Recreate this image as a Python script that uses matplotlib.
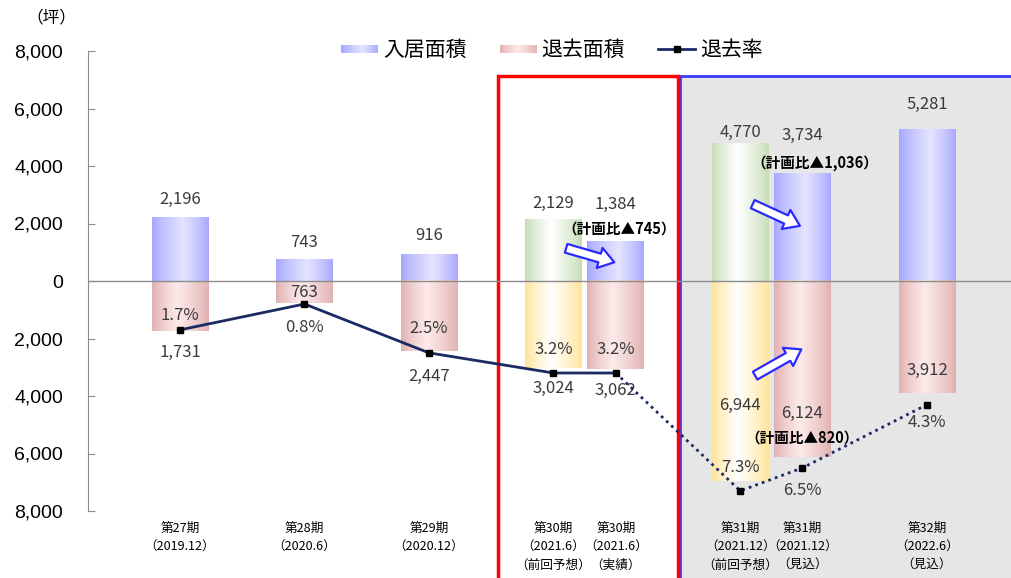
import numpy as np
import matplotlib
matplotlib.use("Agg")
import matplotlib.pyplot as plt
from matplotlib.colors import to_rgb
from matplotlib.patches import Rectangle
from matplotlib.lines import Line2D
from matplotlib.legend_handler import HandlerBase
from matplotlib.ticker import FuncFormatter

plt.rcParams['font.family'] = ['Noto Sans CJK JP', 'DejaVu Sans']

# データ
periods = ["第27期\n（2019.12）", "第28期\n（2020.6）", "第29期\n（2020.12）",
           "第30期\n（2021.6）\n（前回予想）", "第30期\n（2021.6）\n（実績）",
           "第31期\n（2021.12）\n（前回予想）", "第31期\n（2021.12）\n（見込）",
           "第32期\n（2022.6）\n（見込）"]
xpos = [0, 1, 2, 3, 3.5, 4.5, 5, 6]
move_in = [2196, 743, 916, 2129, 1384, 4770, 3734, 5281]      # 入居面積
move_out = [1731, 763, 2447, 3024, 3062, 6944, 6124, 3912]    # 退去面積
rate = [1.7, 0.8, 2.5, 3.2, 3.2, 7.3, 6.5, 4.3]               # 退去率(%)
forecast = [False, False, False, True, False, True, False, False]  # 前回予想

# ラベルの位置調整(ピクセル)
in_off = [18, 17, 19, 16, 37, 11, 38, 25]
out_off = [-22, 10, -25, -21, -21, 75, 44, 23]
rate_off = [14, -23, 24, 23, 23, 23, -23, -18]

def grad(c_edge, c_mid, mid=0.5, n=64):
    e = np.array(to_rgb(c_edge)); m = np.array(to_rgb(c_mid))
    t = np.linspace(0, 1, n)
    w = np.where(t < mid, t / mid, (1 - t) / (1 - mid))
    w = np.clip(w, 0, 1) ** 0.8
    return (e[None, :] * (1 - w[:, None]) + m[None, :] * w[:, None])[None, :, :]

g_blue = grad('#a6a6ff', '#e4e4ff', 0.55)
g_pink = grad('#e0b0b0', '#fdeaea', 0.45)
g_green = grad('#c4dcb4', '#ffffff', 0.45)
g_yellow = grad('#ffe397', '#ffffff', 0.45)

fig = plt.figure(figsize=(10.11, 5.78), dpi=100)
ax = fig.add_axes([88/1011, 1-511/578, (1011-88)/1011, (511-51)/578])
ax.set_xlim(-0.739, 6.675)
ax.set_ylim(-8000, 8000)

# 枠
ax.add_patch(Rectangle((4.016, -10400), 3.0, 17530, fc='#e6e6e6', ec='#3a3aff',
                       lw=2, clip_on=False, zorder=0.5))
ax.add_patch(Rectangle((2.554, -10400), 1.446, 17530, fc='none', ec='#ff0000',
                       lw=2.5, clip_on=False, zorder=0.6))

bw = 0.455
b_in = ax.bar(xpos, move_in, bw, color='none', zorder=2)
b_out = ax.bar(xpos, [-v for v in move_out], bw, color='none', zorder=2)
for i, (r1, r2) in enumerate(zip(b_in, b_out)):
    for r, gi, gf in ((r1, g_blue, g_green), (r2, g_pink, g_yellow)):
        x0, y0 = r.get_x(), r.get_y()
        ax.imshow(gf if forecast[i] else gi, extent=[x0, x0 + r.get_width(), y0, y0 + r.get_height()],
                  aspect='auto', zorder=2, interpolation='bilinear')

ax.axhline(0, color='#8c8c8c', lw=1, zorder=3)

tc = '#3a3a3a'
fs = 12
for i in range(len(xpos)):
    ax.annotate(f'{move_in[i]:,}', (xpos[i], move_in[i]), xytext=(0, in_off[i] * 0.72),
                textcoords='offset points', ha='center', va='center', fontsize=fs, color=tc)
    ax.annotate(f'{move_out[i]:,}', (xpos[i], -move_out[i]), xytext=(0, out_off[i] * 0.72),
                textcoords='offset points', ha='center', va='center', fontsize=fs, color=tc, zorder=5)

# 退去率(第2軸)
ax2 = ax.twinx()
ax2.set_ylim(8, -8)
ax2.set_xlim(ax.get_xlim())
ax2.axis('off')
lc = '#1b2a63'
ax2.plot(xpos[:5], rate[:5], color=lc, lw=2, zorder=4)
ax2.plot(xpos[4:], rate[4:], color=lc, lw=2, ls=(0, (1, 1.5)), zorder=4)
ax2.plot(xpos, rate, ls='none', marker='s', ms=5, color='black', zorder=5)
for i in range(len(xpos)):
    ax2.annotate(f'{rate[i]}%', (xpos[i], rate[i]), xytext=(0, rate_off[i] * 0.72),
                 textcoords='offset points', ha='center', va='center', fontsize=fs, color=tc)

# 矢印と計画比
aprops = dict(arrowstyle='simple,head_width=1.5,head_length=1.1,tail_width=0.65',
              fc='white', ec='#2a2aff', lw=1.6)
for (x1, y1), (x2, y2) in [((3.08, 1165), (3.51, 626)), ((4.58, 2713), (5.0, 1878)),
                           ((4.60, -3339), (5.01, -2330))]:
    ax.annotate('', xy=(x2, y2), xytext=(x1, y1), arrowprops=aprops, zorder=6)
ax.text(3.53, 1810, '（計画比▲745）', ha='center', va='center', fontsize=10.5, fontweight='bold', zorder=6)
ax.text(5.1, 4120, '（計画比▲1,036）', ha='center', va='center', fontsize=10.5, fontweight='bold', zorder=6)
ax.text(5.0, -5430, '（計画比▲820）', ha='center', va='center', fontsize=10.5, fontweight='bold', zorder=6)

# 軸
ax.set_xticks(xpos)
ax.set_xticklabels(periods, fontsize=9.1, linespacing=1.55, va='top')
ax.tick_params(axis='x', length=0, pad=8)
ax.set_yticks(np.arange(-8000, 8001, 2000))
ax.yaxis.set_major_formatter(FuncFormatter(lambda v, p: f'{abs(v):,.0f}'))
ax.tick_params(axis='y', direction='in', length=5, color='#8c8c8c', pad=18)
for lab in ax.get_yticklabels():
    lab.set_fontfamily('Liberation Sans')
    lab.set_fontsize(14)
for s in ['top', 'right', 'bottom']:
    ax.spines[s].set_visible(False)
ax.spines['left'].set_color('#8c8c8c')
ax.set_facecolor('none')

fig.text(51/1011, 1-18/578, '（坪）', ha='center', va='center', fontsize=12)

# 凡例
class GradHandler(HandlerBase):
    def create_artists(self, legend, orig, xd, yd, w, h, fontsize, trans):
        cols = orig.get_gid()
        n = 24
        arts = []
        for k in range(n):
            c = cols[0, int(k / n * cols.shape[1])]
            arts.append(Rectangle((xd + w * k / n, yd + h * 0.2), w / n + 0.3, h * 0.55,
                                  fc=c, lw=0, transform=trans))
        return arts

p_in = Rectangle((0, 0), 1, 1); p_in.set_gid(g_blue)
p_out = Rectangle((0, 0), 1, 1); p_out.set_gid(g_pink)
l_rate = Line2D([], [], color=lc, lw=2, marker='s', ms=4, mfc='black', mec='black')
fig.legend([p_in, p_out, l_rate], ['入居面積', '退去面積', '退去率'],
           handler_map={Rectangle: GradHandler()}, loc='center',
           bbox_to_anchor=(552/1011, 1-50/578), ncol=3, frameon=False, fontsize=15,
           handlelength=1.75, handletextpad=0.25, columnspacing=1.6)

fig.savefig('out.png', dpi=100)
